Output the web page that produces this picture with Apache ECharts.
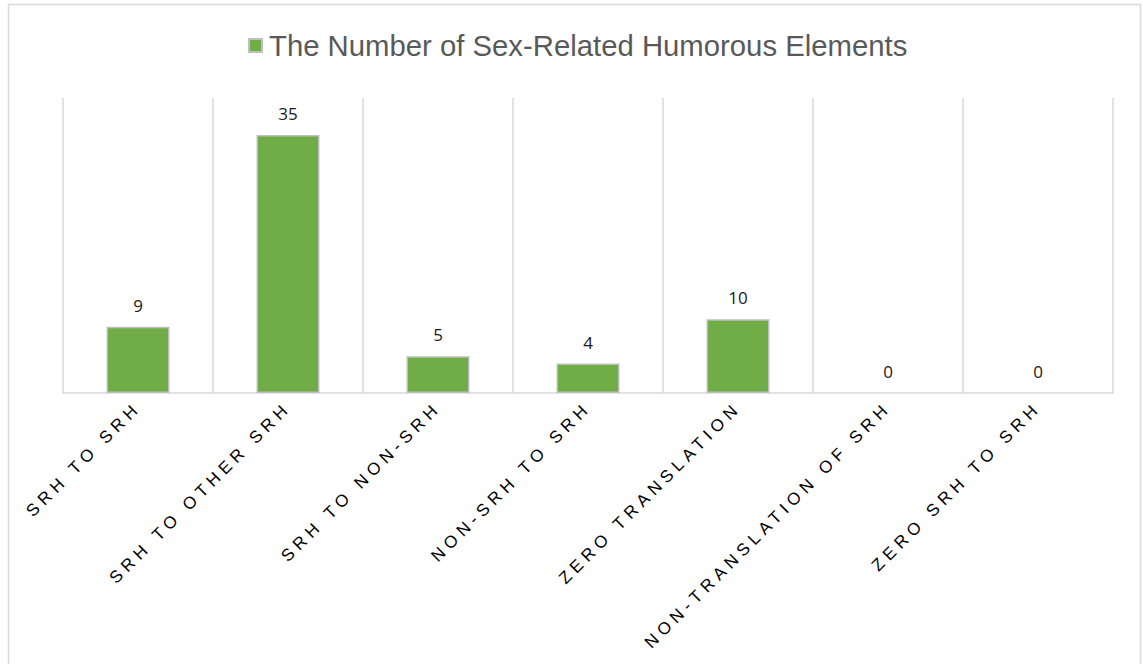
<!DOCTYPE html>
<html>
<head>
<meta charset="utf-8">
<script src="https://cdn.jsdelivr.net/npm/echarts@6/dist/echarts.min.js"></script>
<style>
  html, body { margin: 0; padding: 0; background: #fff; }
  #chart { width: 1143px; height: 664px; }
  /* spaced capitals on the category labels */
  #chart text[style*="Liberation Sans"] { letter-spacing: 5px; }
</style>
</head>
<body>
<div id="chart"></div>
<script>
const categories = [
  'SRH TO SRH',
  'SRH TO OTHER SRH',
  'SRH TO NON-SRH',
  'NON-SRH TO SRH',
  'ZERO TRANSLATION',
  'NON-TRANSLATION OF SRH',
  'ZERO SRH TO SRH'
];
const seriesName = 'The Number of Sex-Related Humorous Elements';
const counts = [9, 35, 5, 4, 10, 0, 0];

const chart = echarts.init(document.getElementById('chart'), null, { renderer: 'svg' });

// empty bars get no outline so nothing shows on the baseline
const barData = counts.map(v => (v === 0 ? { value: v, itemStyle: { borderWidth: 0 } } : v));

chart.setOption({
  animation: false,
  backgroundColor: '#ffffff',
  graphic: [{
    type: 'rect',
    shape: { x: 8.5, y: 4.5, width: 1132, height: 720 },
    style: { fill: 'none', stroke: '#d9d9d9', lineWidth: 1.5 },
    silent: true
  }],
  legend: {
    top: 26,
    left: 243,
    itemWidth: 13,
    itemHeight: 13,
    itemGap: 11,
    icon: 'rect',
    textStyle: { fontFamily: 'Arial', fontSize: 29.3, color: '#595959', padding: [0, 0, 0, 2] },
    data: [seriesName]
  },
  grid: { left: 63, right: 30, top: 98, bottom: 271, containLabel: false },
  xAxis: {
    type: 'category',
    data: categories,
    axisLine: { lineStyle: { color: '#d9d9d9', width: 1.5 } },
    axisTick: { show: false },
    splitLine: { show: true, lineStyle: { color: '#d9d9d9', width: 1.5 } },
    axisLabel: {
      rotate: 45,
      margin: 12,
      interval: 0,
      fontFamily: 'Liberation Sans',
      fontSize: 17,
      color: '#000000'
    }
  },
  yAxis: {
    type: 'value',
    min: 0,
    max: 40,
    show: false,
    splitLine: { show: false }
  },
  series: [{
    name: seriesName,
    type: 'bar',
    data: barData,
    barWidth: '42%',
    itemStyle: { color: '#70ad47', borderColor: '#bfbfbf', borderWidth: 1.5 },
    label: {
      show: true,
      position: 'top',
      distance: 13,
      fontFamily: 'Open Sans',
      fontSize: 17,
      color: '#1a1a1a'
    }
  }]
});
</script>
</body>
</html>
